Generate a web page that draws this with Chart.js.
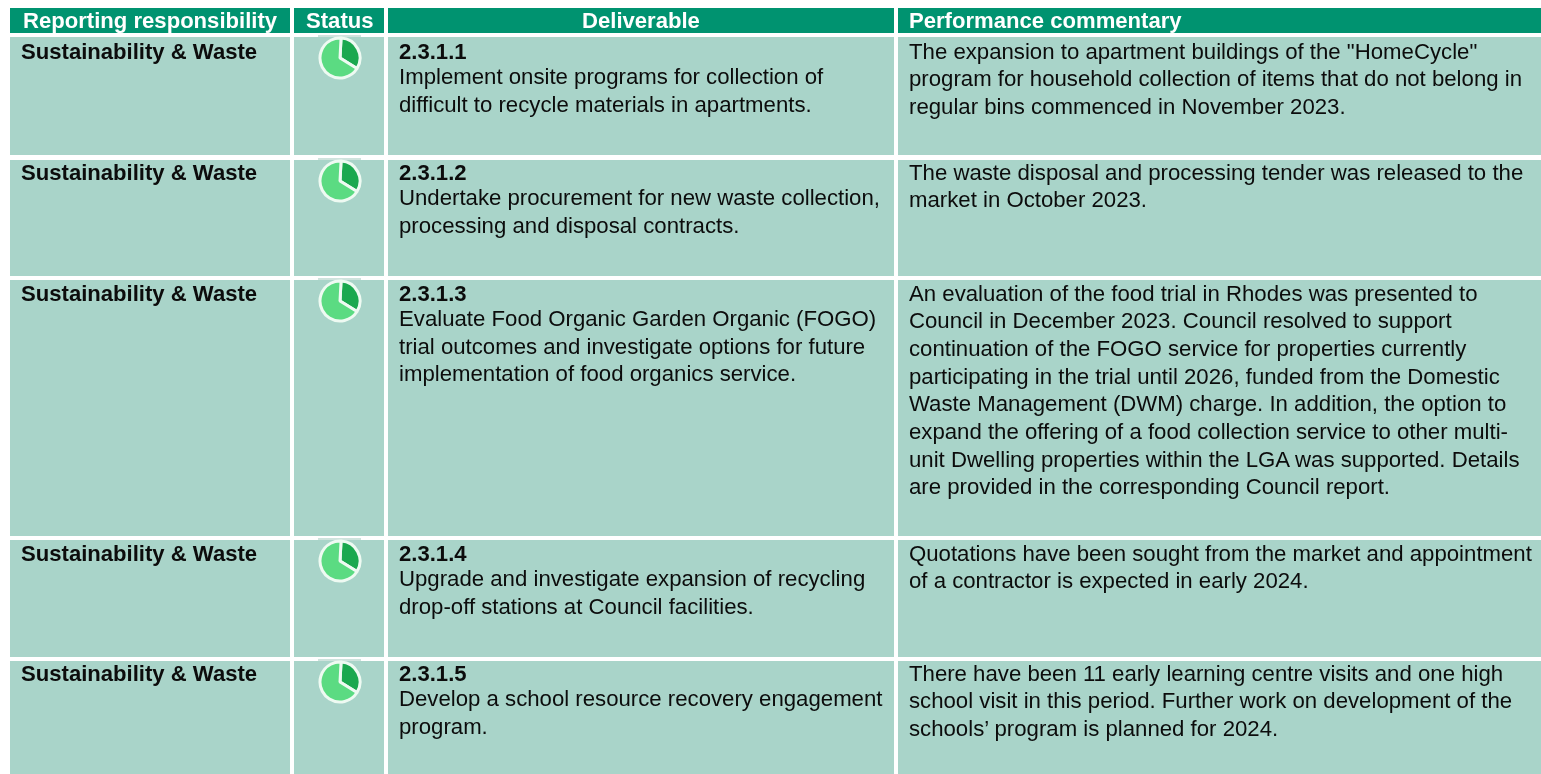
<!DOCTYPE html>
<html>
<head>
<meta charset="utf-8">
<title>Sustainability and waste deliverables</title>
<script src="https://cdn.jsdelivr.net/npm/chart.js@4"></script>
<style>
  html, body { margin: 0; padding: 0; background: #fff; }
  #page { position: relative; width: 1541px; height: 774px; overflow: hidden; font-family: "Liberation Sans", Arial, sans-serif; color: #0c0c0c; filter: blur(0.3px); }
  .cell { position: absolute; box-sizing: border-box; background: #a9d4c9; font-size: 22.2px; line-height: 27.4px; white-space: nowrap; }
  .head { position: absolute; box-sizing: border-box; background: #009370; color: #fff; font-weight: bold; font-size: 22.1px; line-height: 26px; white-space: nowrap; }
  .strip { position: absolute; background: #cfe3dd; }
  .line { position: absolute; }
  .boldline { font-size: 22.1px; font-weight: bold; }
  canvas { position: absolute; }
</style>
</head>
<body>
<div id="page"></div>
<script>
// table content
const headers = ['Reporting responsibility', 'Status', 'Deliverable', 'Performance commentary'];
const responsibility = ['Sustainability & Waste', 'Sustainability & Waste', 'Sustainability & Waste', 'Sustainability & Waste', 'Sustainability & Waste'];
const codes = ['2.3.1.1', '2.3.1.2', '2.3.1.3', '2.3.1.4', '2.3.1.5'];
const deliverables = [
  ['Implement onsite programs for collection of', 'difficult to recycle materials in apartments.'],
  ['Undertake procurement for new waste collection,', 'processing and disposal contracts.'],
  ['Evaluate Food Organic Garden Organic (FOGO)', 'trial outcomes and investigate options for future', 'implementation of food organics service.'],
  ['Upgrade and investigate expansion of recycling', 'drop-off stations at Council facilities.'],
  ['Develop a school resource recovery engagement', 'program.']
];
const commentary = [
  ['The expansion to apartment buildings of the "HomeCycle"', 'program for household collection of items that do not belong in', 'regular bins commenced in November 2023.'],
  ['The waste disposal and processing tender was released to the', 'market in October 2023.'],
  ['An evaluation of the food trial in Rhodes was presented to', 'Council in December 2023. Council resolved to support', 'continuation of the FOGO service for properties currently', 'participating in the trial until 2026, funded from the Domestic', 'Waste Management (DWM) charge. In addition, the option to', 'expand the offering of a food collection service to other multi-', 'unit Dwelling properties within the LGA was supported. Details', 'are provided in the corresponding Council report.'],
  ['Quotations have been sought from the market and appointment', 'of a contractor is expected in early 2024.'],
  ['There have been 11 early learning centre visits and one high', 'school visit in this period. Further work on development of the', 'schools\u2019 program is planned for 2024.']
];

// status pies, share of the circle
const statusDone = [33, 33, 33, 33, 33];
const statusLeft = [67, 67, 67, 67, 67];

// layout
const colX = [10, 294, 388, 898];
const colW = [280, 90, 506, 643];
const rowTop = [37, 160, 280, 540, 661];
const rowH = [118, 116, 256, 117, 113];
const textTop = [37, 158, 279, 539, 659];
const page = document.getElementById('page');

function box(cls, x, y, w, h) {
  const d = document.createElement('div');
  d.className = cls;
  d.style.left = x + 'px';
  d.style.top = y + 'px';
  d.style.width = w + 'px';
  d.style.height = h + 'px';
  page.appendChild(d);
  return d;
}

function addLine(parent, text, x, y, bold) {
  const s = document.createElement('span');
  s.className = bold ? 'line boldline' : 'line';
  s.style.left = x + 'px';
  s.style.top = y + 'px';
  s.textContent = text;
  parent.appendChild(s);
}

// header row
const headX = [13, 12, 194, 11];
headers.forEach((h, i) => {
  const d = box('head', colX[i], 8, colW[i], 25);
  addLine(d, h, headX[i], 0, false);
});

responsibility.forEach((r, i) => {
  const top = rowTop[i];
  const dy = textTop[i] - top;
  let c = box('cell', colX[0], top, colW[0], rowH[i]);
  addLine(c, r, 11, dy + 1, true);

  box('cell', colX[1], top, colW[1], rowH[i]);

  c = box('cell', colX[2], top, colW[2], rowH[i]);
  addLine(c, codes[i], 11, dy + 1, true);
  deliverables[i].forEach((t, j) => addLine(c, t, 11, dy - 0.8 + 27.2 * (j + 1), false));

  c = box('cell', colX[3], top, colW[3], rowH[i]);
  commentary[i].forEach((t, j) => addLine(c, t, 11, dy + 0.5 + 27.7 * j, false));

  // scrap of the icon's image background over the white gap
  box('strip', 318, top - 2, 43, 2);

  // status icon
  const cv = document.createElement('canvas');
  cv.width = 46;
  cv.height = 46;
  cv.style.left = '317px';
  cv.style.top = (top - 2) + 'px';
  page.appendChild(cv);
  new Chart(cv, {
    type: 'pie',
    data: {
      labels: ['Done', 'Remaining'],
      datasets: [{
        data: [statusDone[i], statusLeft[i]],
        backgroundColor: ['#1aa84f', '#5bdb82'],
        borderColor: '#eefaf2',
        borderWidth: 3
      }]
    },
    options: {
      responsive: false,
      animation: false,
      rotation: 3,
      radius: 20,
      plugins: { legend: { display: false }, tooltip: { enabled: false } }
    }
  });
});
</script>
</body>
</html>
